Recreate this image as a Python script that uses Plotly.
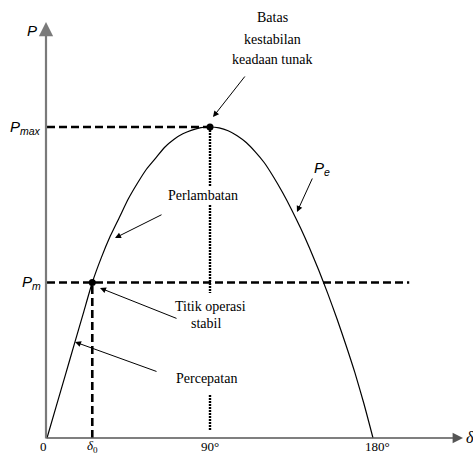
import plotly.graph_objects as go

# Power-angle curve P_e(delta) of a generator (per-unit of P_max)
delta_deg = [0, 5, 10, 15, 20, 25, 30, 35, 40, 45, 50, 55, 60, 65, 70, 75, 80, 85, 90,
             95, 100, 105, 110, 115, 120, 125, 130, 135, 140, 145, 150, 155, 160, 165,
             170, 175, 180]
p_e = [0, 0.10, 0.20, 0.30, 0.40, 0.50, 0.58, 0.65, 0.71, 0.77, 0.82, 0.865, 0.90,
       0.935, 0.96, 0.978, 0.99, 0.998, 1.0,
       0.997, 0.988, 0.972, 0.95, 0.92, 0.885, 0.84, 0.79, 0.735, 0.675, 0.61, 0.54,
       0.465, 0.385, 0.30, 0.21, 0.11, 0]

P_MAX = 1.0          # peak electrical power
P_M = 0.5            # mechanical input power
DELTA_0 = 25         # stable operating angle
DELTA_MAX = 90       # angle of maximum power
PM_LINE_END = 200    # extent of the P_m reference line

tick_vals = [0, DELTA_0, DELTA_MAX, 180]
tick_text = ["0", "<i>δ</i><sub>0</sub>", "90°", "180°"]
tick_shift = [-4, 0, 0, 4]

W, H = 473, 455
SERIF = "Liberation Serif, Times New Roman, serif"
SANS = "Liberation Sans, Arial, sans-serif"


def fx(px):
    return px / W


def fy(py):
    return 1 - py / H


fig = go.Figure()

dash_style = dict(color="black", width=2.6, dash="8px,4px")

# P_max and P_m reference lines
fig.add_trace(go.Scatter(x=[0, DELTA_MAX], y=[P_MAX, P_MAX], mode="lines", line=dash_style))
fig.add_trace(go.Scatter(x=[0, PM_LINE_END], y=[P_M, P_M], mode="lines", line=dash_style))
# delta_0 drop line
fig.add_trace(go.Scatter(x=[DELTA_0, DELTA_0], y=[0, P_M], mode="lines", line=dash_style))
# 90 degree drop line (two visible pieces)
dot_style = dict(color="black", width=2.4, dash="2px,1px")
fig.add_trace(go.Scatter(x=[DELTA_MAX, DELTA_MAX], y=[P_MAX, 0.466], mode="lines", line=dot_style))
fig.add_trace(go.Scatter(x=[DELTA_MAX, DELTA_MAX], y=[0.138, 0.026], mode="lines", line=dot_style))

# the curve
fig.add_trace(go.Scatter(x=delta_deg, y=p_e, mode="lines",
                         line=dict(color="black", width=1.2, shape="spline", smoothing=0.6)))

# operating point and maximum point
fig.add_trace(go.Scatter(x=[DELTA_0, DELTA_MAX], y=[P_M, P_MAX], mode="markers",
                         marker=dict(color="black", size=7)))

ann = []


def label(px, py, text, font, xanchor="center", bg=None):
    d = dict(x=fx(px), y=fy(py), xref="paper", yref="paper", showarrow=False,
             xanchor=xanchor, yanchor="middle", text=text, font=font)
    if bg:
        d["bgcolor"] = bg
    ann.append(d)


def arrow(tip_x, tip_y, dx, dy, color="black", width=1, size=1.2):
    ann.append(dict(x=fx(tip_x), y=fy(tip_y), ax=dx, ay=dy, xref="paper", yref="paper",
                    showarrow=True, arrowhead=2, arrowsize=size, arrowwidth=width,
                    arrowcolor=color, text=""))


# axes drawn as arrows
arrow(46, 22, 0, 418, color="#7a7a7a", width=2.2, size=1.3)
arrow(463, 438, -418, 0, color="#555555", width=1.6, size=1.3)

sans15 = dict(family=SANS, size=15, color="black")
callout_font = dict(family=SERIF, size=14, color="black")

# axis titles and P labels
label(32, 31, "<i>P</i>", sans15)
label(43, 127, "<i>P<sub>max</sub></i>", sans15, xanchor="right")
label(43, 282, "<i>P<sub>m</sub></i>", sans15, xanchor="right")
label(464, 437, "<i>δ</i>", dict(family=SERIF, size=16, color="black"), xanchor="left")

# tick labels on the delta axis
for v, t, s in zip(tick_vals, tick_text, tick_shift):
    ann.append(dict(x=v, y=fy(446), xref="x", yref="paper", showarrow=False,
                    yanchor="middle", xshift=s, text=t,
                    font=dict(family=SERIF, size=13, color="black")))

# text callouts with arrows
for i, line in enumerate(["Batas", "kestabilan", "keadaan tunak"]):
    label(272, 18 + 21 * i, line, callout_font)
arrow(213, 117, 33, -42)

label(203, 195, "Perlambatan", callout_font, bg="white")
arrow(115, 238, 48, -24)

label(322, 168, "<i>P<sub>e</sub></i>", sans15)
arrow(297, 212, 16, -35)

label(210, 306, "Titik operasi", callout_font, bg="white")
label(206, 323, "stabil", callout_font, bg="white")
arrow(100, 288, 78, 31)

label(206, 378, "Percepatan", callout_font, bg="white")
arrow(75, 342, 83, 30)

# scale: delta 0 at x=47 px, 180 at x=373 px; P 0 at y=438 px, P_max at y=127 px
sx = (373 - 47) / 180
sy = (438 - 127) / P_MAX

fig.update_layout(
    width=W, height=H,
    margin=dict(l=0, r=0, t=0, b=0),
    paper_bgcolor="white", plot_bgcolor="white",
    showlegend=False,
    xaxis=dict(range=[-47 / sx, (W - 47) / sx], visible=False, fixedrange=True),
    yaxis=dict(range=[-(H - 438) / sy, 438 / sy], visible=False, fixedrange=True),
    annotations=ann,
)

fig.write_html("out.html")
